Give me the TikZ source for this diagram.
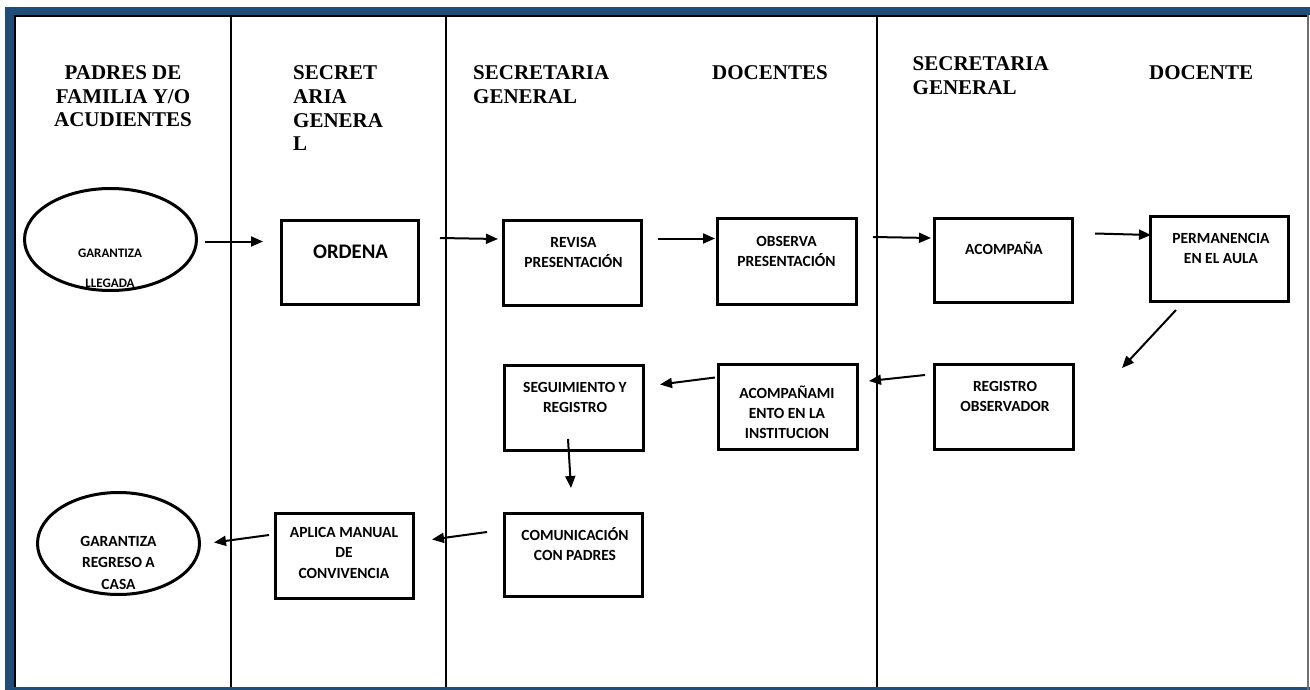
\documentclass[tikz,border=0pt]{standalone}
\usepackage{fontspec}
\setmainfont{Liberation Serif}
\newfontfamily\boxfont{Carlito}
\usetikzlibrary{arrows.meta,shapes.geometric}
\definecolor{frameblue}{RGB}{32,78,121}
\definecolor{edgegray}{RGB}{110,110,110}
\begin{document}
\begin{tikzpicture}[x=1pt,y=-1pt,
  box/.style={draw=black, line width=3pt, rectangle, minimum width=138pt, minimum height=85pt, inner sep=0pt},
  oval/.style={draw=black, line width=3pt, ellipse, inner sep=0pt},
  btxt/.style={font=\boxfont\bfseries\fontsize{15.5}{20}\selectfont, align=center, inner sep=0pt, anchor=base},
  head/.style={font=\bfseries\fontsize{21}{23.5}\selectfont, inner sep=0pt, anchor=base west, align=left},
  arr/.style={line width=2pt, -{Triangle[length=12pt,width=10pt]}},
  lane/.style={line width=1.1pt, draw=black}
]
\useasboundingbox (0,0) rectangle (1310,690);
\fill[white] (0,0) rectangle (1310,690);
% frame
\fill[frameblue] (5,7) rectangle (1310,15);
\fill[frameblue] (5,7) rectangle (13.5,690);
\fill[frameblue] (13.5,687) rectangle (1310,690);
\fill[edgegray] (1306.5,15) rectangle (1309,690);
\fill[gray!60] (73,15) rectangle (86,17);
% lanes
\draw[lane] (15,15.5) -- (15,687);
\draw[lane] (15,16) -- (1306.5,16);
\draw[lane] (231,16) -- (231,687);
\draw[lane] (446,16) -- (446,687);
\draw[lane] (877,16) -- (877,687);

% headers (anchor = baseline of the last line)
\node[head, align=center, anchor=base] (h1) at (123,127) {PADRES DE\\FAMILIA Y/O\\ACUDIENTES};
\node[head] (h2) at (293,150.5) {SECRET\\ARIA\\GENERA\\L};
\node[head] (h3) at (473,103.5) {SECRETARIA\\GENERAL};
\node[head] (h4) at (712,80) {DOCENTES};
\node[head] (h5) at (912.5,94.5) {SECRETARIA\\GENERAL};
\node[head] (h6) at (1149,80) {DOCENTE};

% shapes
\node[oval, minimum width=172pt, minimum height=102pt] (llegada) at (110.5,239.5) {};
\node[box, minimum width=137pt, minimum height=84pt] (ordena) at (350,262.5) {};
\node[box] (revisa) at (572.5,263) {};
\node[box, minimum width=139pt, minimum height=86pt] (observa) at (787,261.5) {};
\node[box, minimum height=84pt] (acompana) at (1003.5,260.5) {};
\node[box] (permanencia) at (1219.5,259) {};
\node[box, minimum width=139pt] (regobs) at (1004,407) {};
\node[box, minimum width=139pt] (acompinst) at (788,407) {};
\node[box, minimum width=139pt] (seguimiento) at (574,408) {};
\node[box, minimum height=83pt] (comunicacion) at (573.5,555) {};
\node[box] (aplica) at (344.5,556) {};
\node[oval, minimum width=162pt, minimum height=102pt] (regreso) at (118.5,543.5) {};

% texts (anchor = baseline of the last line)
\node[btxt, font=\boxfont\bfseries\fontsize{13}{30}\selectfont] (llegada-t) at (110,287) {GARANTIZA\\LLEGADA};
\node[btxt, font=\boxfont\bfseries\fontsize{20.7}{24}\selectfont] (ordena-t) at (350.5,258.5) {ORDENA};
\node[btxt] (revisa-t) at (573.5,267) {REVISA\\PRESENTACIÓN};
\node[btxt] (observa-t) at (786.5,266) {OBSERVA\\PRESENTACIÓN};
\node[btxt] (acompana-t) at (1004,254) {ACOMPAÑA};
\node[btxt] (permanencia-t) at (1221,263) {PERMANENCIA\\EN EL AULA};
\node[btxt] (regobs-t) at (1005,411) {REGISTRO\\OBSERVADOR};
\node[btxt] (acompinst-t) at (787,438) {ACOMPAÑAMI\\ENTO EN LA\\INSTITUCION};
\node[btxt] (seguimiento-t) at (575,412) {SEGUIMIENTO Y\\REGISTRO};
\node[btxt] (comunicacion-t) at (575,560) {COMUNICACIÓN\\CON PADRES};
\node[btxt, font=\boxfont\bfseries\fontsize{15.5}{20.5}\selectfont] (aplica-t) at (344,578) {APLICA MANUAL\\DE\\CONVIVENCIA};
\node[btxt, font=\boxfont\bfseries\fontsize{15.5}{21.5}\selectfont] (regreso-t) at (118.5,589) {GARANTIZA\\REGRESO A\\CASA};

% arrow ends
\coordinate (a1s) at (205,241.5);  \coordinate (a1e) at (263,241.5);
\coordinate (a2s) at (440,238);    \coordinate (a2e) at (498,239);
\coordinate (a3s) at (658,238.5);  \coordinate (a3e) at (715,238.5);
\coordinate (a4s) at (873,237);    \coordinate (a4e) at (931,238);
\coordinate (a5s) at (1095,233.5); \coordinate (a5e) at (1151,235);
\coordinate (a6s) at (1176,310);   \coordinate (a6e) at (1122,368);
\coordinate (a7s) at (925,375);    \coordinate (a7e) at (869,381);
\coordinate (a8s) at (715,377.5);  \coordinate (a8e) at (660,384.5);
\coordinate (a9s) at (568,439);    \coordinate (a9e) at (571,488);
\coordinate (a10s) at (487,532);   \coordinate (a10e) at (432,539.5);
\coordinate (a11s) at (269,535);   \coordinate (a11e) at (214,542.5);

\draw[arr] (a1s) -- (a1e);
\draw[arr] (a2s) -- (a2e);
\draw[arr] (a3s) -- (a3e);
\draw[arr] (a4s) -- (a4e);
\draw[arr] (a5s) -- (a5e);
\draw[arr] (a6s) -- (a6e);
\draw[arr] (a7s) -- (a7e);
\draw[arr] (a8s) -- (a8e);
\draw[arr] (a9s) -- (a9e);
\draw[arr] (a10s) -- (a10e);
\draw[arr] (a11s) -- (a11e);
\end{tikzpicture}
\end{document}
